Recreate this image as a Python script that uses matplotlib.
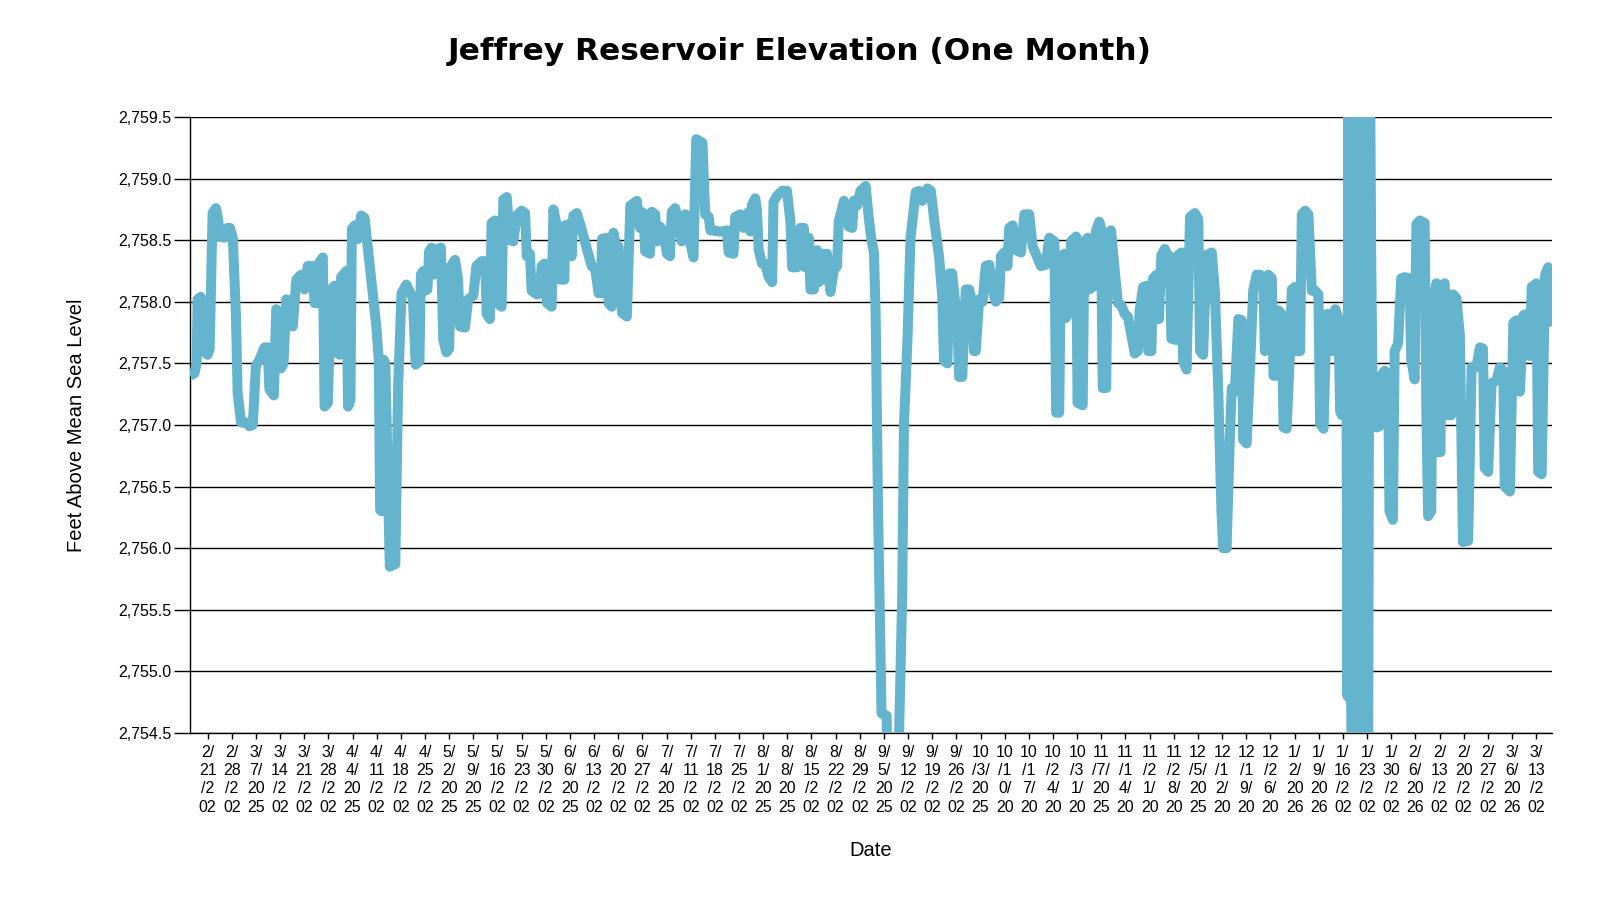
import matplotlib
matplotlib.use("Agg")
from matplotlib import pyplot as plt
from matplotlib.ticker import FuncFormatter
import numpy as np
import pandas as pd

plt.rcParams["font.family"] = ["Liberation Sans", "DejaVu Sans"]

START = pd.Timestamp("2025-02-21")

# readings: days after 2/21/2025 and reservoir elevation (ft)
day_offset = [
    # Feb - Apr
    -5.1, -3.8, -3.2, -2.9, -2.0, -1.5, 0.0, 0.6, 1.45, 2.4, 3.0, 3.6, 4.8, 5.8,
    6.5, 7.3, 8.2, 8.7, 9.7, 11.2, 12.1, 13.1, 14.0, 15.0, 16.5, 17.4, 17.9, 19.2,
    19.9, 20.8, 21.3, 22.0, 22.8, 24.2, 24.7, 25.7, 27.1, 28.1, 29.0, 30.5, 31.0,
    31.9, 32.4, 33.4, 33.9, 34.85, 35.8, 36.8, 37.3, 38.25, 38.7, 40.2, 40.7, 41.4,
    41.8, 42.6, 43.6, 44.5, 45.5, 47.0, 48.9, 49.6, 50.0, 50.4, 51.0, 51.5, 52.8,
    54.4, 55.2, 56.2,
    # Apr - Jun
    57.6, 59.1, 59.5, 60.3, 61.4, 61.8, 62.5, 62.9, 63.7, 64.2, 64.9, 65.4, 66.0,
    67.6, 68.3, 69.2, 70.0, 70.5, 71.7, 72.6, 73.1, 74.6, 75.5, 77.0, 77.9, 79.4,
    80.4, 80.9, 81.8, 82.3, 83.3, 83.6, 83.8, 85.2, 85.7, 86.7, 87.6, 88.6, 89.6,
    91.0, 92.0, 92.5, 93.4, 93.9, 95.4, 96.3, 96.8, 97.6, 98.3, 99.7, 100.2, 101.2,
    102.1, 103.4, 103.6, 104.6, 105.5, 106.0, 107.0, 108.4, 109.9, 111.3, 112.3,
    113.3, 114.0, 114.3, 115.7, 116.2, 117.1, 117.6, 118.6, 119.1, 120.1, 121.5,
    122.5,
    # Jun - Aug
    124.4, 125.3, 125.8, 126.3, 126.8, 128.2, 128.7, 129.7, 130.2, 131.1, 132.1,
    133.1, 134.0, 134.5, 135.5, 136.5, 137.4, 138.4, 139.4, 139.8, 140.8, 141.6,
    143.4, 144.2, 145.2, 145.7, 148.6, 150.5, 151.0, 152.4, 152.9, 154.4, 155.3,
    156.8, 157.3, 157.8, 158.7, 159.2, 159.7, 160.7, 161.6, 162.6, 163.6, 164.0,
    165.0, 166.5, 167.9, 168.9, 169.4, 170.8, 171.8, 172.8, 173.2, 174.2, 174.7,
    175.7, 176.6, 177.1, 178.1, 178.6, 179.5, 180.5, 181.5, 182.4, 182.9, 184.4,
    185.8, 186.8, 187.3, 188.2, 189.2, 190.7, 191.6,
    # Sep - Nov
    192.4, 193.1, 193.6, 194.3, 195.3, 196.8, 197.2, 199.9, 200.4, 201.3, 201.8,
    202.8, 203.7, 205.2, 206.2, 207.1, 208.6, 209.6, 210.5, 212.0, 212.9, 213.4,
    214.4, 214.9, 215.8, 217.3, 217.8, 218.7, 219.7, 220.7, 221.7, 222.1, 222.6,
    223.6, 224.6, 225.5, 226.5, 227.5, 228.4, 229.4, 229.9, 230.8, 231.8, 232.3,
    233.3, 234.2, 235.7, 236.7, 238.1, 239.1, 240.0, 241.5, 242.9, 243.9, 245.4,
    245.9, 246.8, 247.3, 248.3, 248.8, 249.7, 250.2, 251.7, 252.1, 253.6, 254.1,
    255.1, 255.5, 257.0, 257.5, 258.4, 258.9, 259.4, 260.4, 260.9, 261.8,
    # Nov - Jan
    262.9, 263.8, 264.8, 265.8, 266.7, 267.7, 268.7, 269.6, 270.1, 271.1, 272.1,
    272.6, 273.5, 274.0, 275.0, 275.7, 276.4, 277.4, 278.4, 278.8, 279.3, 280.8,
    281.3, 282.2, 282.7, 283.7, 284.7, 286.1, 287.1, 287.6, 288.5, 289.5, 291.0,
    291.9, 292.9, 293.8, 294.3, 295.3, 296.3, 296.8, 297.7, 298.7, 299.7, 300.1,
    301.1, 302.1, 303.0, 304.0, 305.0, 305.9, 306.4, 307.4, 308.4, 308.9, 309.8,
    310.3, 311.3, 311.8, 312.7, 313.7, 314.2, 315.1, 315.6, 316.6, 317.1, 318.1,
    319.0, 320.0, 321.0, 321.9, 322.4, 323.4, 324.3, 325.3, 325.8, 326.8, 327.7,
    328.2, 328.7,
    # Jan - Mar
    329.0, 330.0, 330.3, 330.6, 331.0, 331.4, 331.7, 332.0, 332.4, 332.8, 333.2,
    333.6, 334.0, 334.4, 334.8, 335.2, 335.6, 336.0, 336.3, 336.8, 337.2, 337.7,
    338.7, 339.6, 340.1, 341.1, 342.1, 342.5, 343.5, 344.0, 345.0, 345.9, 346.9,
    348.3, 348.8, 349.8, 350.3, 351.3, 352.7, 353.2, 353.7, 354.6, 355.1, 356.1,
    356.6, 357.3, 357.5, 358.5, 359.5, 360.4, 360.9, 361.9, 362.9, 363.8, 365.3,
    366.3, 367.7, 368.7, 369.6, 370.1, 371.1, 372.1, 373.5, 374.5, 375.5, 375.9,
    377.4, 378.4, 379.3, 380.3, 381.3, 382.2, 383.2, 383.7, 385.1, 385.6, 386.6,
    387.6, 388.5, 389.0, 389.6,
]

elevation_ft = [
    # Feb - Apr
    2757.40, 2757.42, 2757.50, 2758.02, 2758.04, 2757.61, 2757.57, 2757.62, 2758.72,
    2758.76, 2758.68, 2758.53, 2758.52, 2758.60, 2758.60, 2758.52, 2757.90, 2757.26,
    2757.02, 2757.02, 2756.99, 2757.00, 2757.48, 2757.53, 2757.63, 2757.63, 2757.29,
    2757.24, 2757.94, 2757.88, 2757.46, 2757.50, 2758.02, 2758.00, 2757.80, 2758.18,
    2758.22, 2758.10, 2758.29, 2758.29, 2757.99, 2757.99, 2758.32, 2758.36, 2757.15,
    2757.18, 2758.10, 2758.13, 2757.59, 2757.57, 2758.20, 2758.25, 2757.15, 2757.20,
    2758.59, 2758.62, 2758.51, 2758.70, 2758.68, 2758.29, 2757.80, 2757.53, 2756.31,
    2756.30, 2757.53, 2757.50, 2755.85, 2755.87, 2757.30, 2758.07,
    # Apr - Jun
    2758.14, 2758.05, 2758.02, 2757.49, 2757.52, 2758.22, 2758.25, 2758.09, 2758.10,
    2758.41, 2758.44, 2758.22, 2758.42, 2758.44, 2757.69, 2757.59, 2757.62, 2758.29,
    2758.34, 2758.18, 2757.80, 2757.79, 2758.02, 2758.05, 2758.29, 2758.33, 2758.33,
    2757.90, 2757.86, 2758.64, 2758.66, 2758.62, 2757.99, 2757.96, 2758.83, 2758.85,
    2758.50, 2758.49, 2758.70, 2758.74, 2758.72, 2758.37, 2758.39, 2758.09, 2758.06,
    2758.07, 2758.29, 2758.31, 2757.99, 2757.96, 2758.75, 2758.62, 2758.18, 2758.18,
    2758.62, 2758.63, 2758.37, 2758.70, 2758.72, 2758.59, 2758.43, 2758.29, 2758.27,
    2758.07, 2758.07, 2758.51, 2758.52, 2757.99, 2757.96, 2758.56, 2758.43, 2758.45,
    2757.91, 2757.88, 2758.78,
    # Jun - Aug
    2758.82, 2758.60, 2758.73, 2758.72, 2758.41, 2758.39, 2758.73, 2758.71, 2758.49,
    2758.61, 2758.57, 2758.39, 2758.37, 2758.73, 2758.76, 2758.65, 2758.49, 2758.71,
    2758.69, 2758.49, 2758.36, 2759.32, 2759.29, 2758.71, 2758.69, 2758.58, 2758.57,
    2758.58, 2758.40, 2758.39, 2758.69, 2758.71, 2758.60, 2758.73, 2758.57, 2758.79,
    2758.84, 2758.75, 2758.42, 2758.31, 2758.31, 2758.20, 2758.16, 2758.81, 2758.86,
    2758.90, 2758.90, 2758.65, 2758.28, 2758.28, 2758.60, 2758.60, 2758.28, 2758.52,
    2758.10, 2758.10, 2758.42, 2758.16, 2758.39, 2758.18, 2758.39, 2758.08, 2758.26,
    2758.29, 2758.65, 2758.82, 2758.61, 2758.60, 2758.82, 2758.78, 2758.90, 2758.94,
    2758.68,
    # Sep - Nov
    2758.50, 2758.40, 2757.90, 2756.30, 2754.66, 2754.64, 2753.00, 2753.00, 2754.50,
    2755.63, 2757.00, 2757.68, 2758.52, 2758.89, 2758.90, 2758.82, 2758.92, 2758.90,
    2758.68, 2758.36, 2758.04, 2757.52, 2757.50, 2758.23, 2758.23, 2757.81, 2757.39,
    2757.39, 2758.10, 2758.10, 2757.98, 2757.60, 2757.60, 2758.02, 2758.00, 2758.29,
    2758.30, 2758.10, 2758.00, 2758.03, 2758.37, 2758.40, 2758.29, 2758.60, 2758.62,
    2758.42, 2758.40, 2758.71, 2758.71, 2758.45, 2758.39, 2758.29, 2758.30, 2758.52,
    2758.49, 2757.10, 2757.10, 2758.37, 2758.39, 2757.87, 2757.93, 2758.49, 2758.53,
    2757.18, 2757.16, 2758.49, 2758.52, 2758.10, 2758.13, 2758.58, 2758.65, 2758.60,
    2757.30, 2757.30, 2758.55, 2758.58,
    # Nov - Jan
    2758.25, 2757.99, 2757.97, 2757.90, 2757.88, 2757.73, 2757.58, 2757.60, 2757.93,
    2758.12, 2758.13, 2757.60, 2757.60, 2758.19, 2758.22, 2757.86, 2758.38, 2758.43,
    2758.36, 2758.37, 2757.70, 2757.69, 2758.38, 2758.40, 2757.52, 2757.45, 2758.69,
    2758.72, 2758.67, 2757.60, 2757.57, 2758.38, 2758.40, 2758.09, 2757.27, 2756.30,
    2756.00, 2756.00, 2756.95, 2757.30, 2757.27, 2757.86, 2757.85, 2756.88, 2756.85,
    2757.47, 2758.09, 2758.22, 2758.22, 2758.19, 2757.60, 2758.22, 2758.19, 2757.40,
    2757.40, 2757.93, 2757.90, 2756.98, 2756.97, 2757.60, 2758.10, 2758.12, 2757.60,
    2757.60, 2758.71, 2758.74, 2758.71, 2758.09, 2758.09, 2758.06, 2757.01, 2756.97,
    2757.90, 2757.90, 2757.60, 2757.94, 2757.87, 2757.11, 2757.08,
    # Jan - Mar (sensor glitch around 1/20)
    2757.80, 2757.83, 2754.80, 2760.30, 2754.80, 2754.75, 2753.80, 2760.30, 2753.80,
    2760.30, 2753.80, 2760.30, 2753.80, 2760.30, 2753.80, 2760.30, 2753.80, 2760.30,
    2753.80, 2760.30, 2758.40, 2757.00, 2756.98, 2756.99, 2757.40, 2757.44, 2757.40,
    2756.30, 2756.23, 2757.60, 2757.66, 2758.19, 2758.20, 2758.19, 2757.53, 2757.37,
    2758.63, 2758.66, 2758.64, 2757.08, 2756.26, 2756.30, 2758.00, 2758.15, 2756.78,
    2756.78, 2758.12, 2758.15, 2757.08, 2757.08, 2758.06, 2758.03, 2757.73, 2756.05,
    2756.06, 2757.47, 2757.47, 2757.63, 2757.62, 2756.65, 2756.62, 2757.34, 2757.36,
    2757.47, 2757.44, 2756.50, 2756.46, 2757.83, 2757.85, 2757.27, 2757.89, 2757.90,
    2757.56, 2758.12, 2758.15, 2756.62, 2756.60, 2758.22, 2758.28, 2758.20, 2757.80,
]
assert len(day_offset) == len(elevation_ft)

tick_dates = pd.date_range("2025-02-21", "2026-03-13", freq="7D")
y_ticks = np.arange(2754.5, 2759.51, 0.5)


def wrap_label(text, limit=4, rows=4):
    """Break a date into narrow rows like the original svg labels do"""
    lines, cur, width = [], "", 0
    for ch in text:
        w = 1 if ch == "/" else 2
        if cur and width + w > limit:
            lines.append(cur)
            cur, width = "", 0
        cur += ch
        width += w
    lines.append(cur)
    return "\n".join(lines[:rows])


times = START + pd.to_timedelta(day_offset, unit="D")

fig = plt.figure(figsize=(16, 9), dpi=100)
ax = fig.add_axes([190 / 1600, 1 - 733 / 900, (1552 - 190) / 1600, 616 / 900])

ax.plot(times, elevation_ft, color="#64b4cd", lw=7.2,
        solid_joinstyle="round", solid_capstyle="butt", zorder=3)

ax.set_xlim(times[0], times[-1])
ax.set_ylim(2754.5, 2759.5)

ax.set_xticks(tick_dates)
ax.set_xticklabels(
    [wrap_label(f"{d.month}/{d.day}/{d.year}") for d in tick_dates],
    linespacing=1.27)
ax.tick_params(axis="x", length=4.5, width=1, pad=4, labelsize=11.5)

ax.set_yticks(y_ticks)
ax.yaxis.set_major_formatter(FuncFormatter(lambda v, _: f"{v:,.1f}"))
ax.tick_params(axis="y", length=11.5, width=1, pad=2, labelsize=11.5)

ax.yaxis.grid(True, color="black", lw=1.0)
ax.spines["top"].set_visible(False)
ax.spines["right"].set_visible(False)
ax.spines["left"].set_linewidth(1)
ax.spines["bottom"].set_linewidth(1)

ax.set_xlabel("Date", fontsize=14.5, va="center")
ax.xaxis.set_label_coords(0.5, (733 - 851) / 616)
ax.set_ylabel("Feet Above Mean Sea Level", fontsize=14.5, va="center")
ax.yaxis.set_label_coords((77 - 190) / 1362, 0.5)

fig.text(0.5, 1 - 51 / 900, "Jeffrey Reservoir Elevation (One Month)",
         ha="center", va="center", fontsize=22.5, weight="bold",
         family="DejaVu Sans")

fig.savefig("out.png", dpi=100)
